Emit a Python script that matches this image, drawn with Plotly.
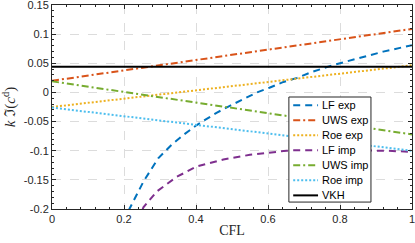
import plotly.graph_objects as go

# ---- data ----
cfl_lin = [0.0, 1.0]
uws_exp = [0.020, 0.109]
roe_exp = [-0.025, 0.0465]
uws_imp = [0.019, -0.072]
roe_imp = [-0.026, -0.100]
vkh = [0.044, 0.044]

lf_exp_x = [0.200, 0.215, 0.254, 0.295, 0.332, 0.365, 0.402, 0.425, 0.457, 0.494, 0.531,
            0.569, 0.604, 0.643, 0.681, 0.717, 0.781, 0.85, 0.92, 1.0]
lf_exp_y = [-0.222, -0.200, -0.153, -0.113, -0.090, -0.073, -0.056, -0.047, -0.035, -0.023,
            -0.012, 0.000, 0.008, 0.018, 0.025, 0.034, 0.047, 0.059, 0.070, 0.081]

lf_imp_x = [0.240, 0.254, 0.291, 0.346, 0.402, 0.476, 0.550, 0.652, 0.75, 0.85, 0.93, 1.0]
lf_imp_y = [-0.220, -0.197, -0.170, -0.145, -0.127, -0.115, -0.107, -0.100, -0.099, -0.099,
            -0.100, -0.102]

x_ticks = [0, 0.2, 0.4, 0.6, 0.8, 1]
x_labels = ["0", "0.2", "0.4", "0.6", "0.8", "1"]
y_ticks = [-0.2, -0.15, -0.1, -0.05, 0, 0.05, 0.1, 0.15]
y_labels = ["-0.2", "-0.15", "-0.1", "-0.05", "0", "0.05", "0.1", "0.15"]

series_names = ["LF exp", "UWS exp", "Roe exp", "LF imp", "UWS imp", "Roe imp", "VKH"]

DASH = "7px,5px"
DASHDOT = "7px,3px,2px,3px"
DOT = "2px,2px"
styles = [("#0072BD", DASH), ("#D95319", DASHDOT), ("#EDB120", DOT),
          ("#7E2F8E", DASH), ("#77AC30", DASHDOT), ("#4DBEEE", DOT), ("#000000", "solid")]
xs = [lf_exp_x, cfl_lin, cfl_lin, lf_imp_x, cfl_lin, cfl_lin, cfl_lin]
ys = [lf_exp_y, uws_exp, roe_exp, lf_imp_y, uws_imp, roe_imp, vkh]

fig = go.Figure()
for name, (color, dash), x, y in zip(series_names, styles, xs, ys):
    fig.add_trace(go.Scatter(x=x, y=y, mode="lines", name=name, showlegend=False,
                             line=dict(color=color, width=2, dash=dash)))

axis_common = dict(
    showline=True, linecolor="#262626", linewidth=1, mirror="ticks",
    ticks="inside", ticklen=4, tickcolor="#262626",
    showgrid=True, gridcolor="#DCDCDC", griddash="dash", gridwidth=1,
    zeroline=False, automargin=False, ticklabeloverflow="allow",
    tickfont=dict(family="Liberation Sans", size=11, color="#262626"),
)

fig.update_xaxes(range=[0, 1.00001], tickvals=x_ticks, ticktext=x_labels,
                 minor=dict(dtick=0.04, tick0=0, ticks="inside", ticklen=2, tickcolor="#262626", showgrid=False),
                 title=dict(text="CFL", font=dict(family="Liberation Serif", size=14, color="#262626"), standoff=0),
                 **axis_common)
fig.update_yaxes(range=[-0.2, 0.15001], tickvals=y_ticks, ticktext=y_labels,
                 minor=dict(dtick=0.01, tick0=0, ticks="inside", ticklen=2, tickcolor="#262626", showgrid=False),
                 title=dict(text="<i>k</i> ℑ(<i>c</i><sup>d</sup>)", font=dict(family="Liberation Serif", size=15, color="#262626"), standoff=4),
                 **axis_common)

# ---- legend box (drawn in axis-domain coordinates) ----
lx0, lx1, ly_top, ly_bot = 0.658, 0.886, 0.549, 0.034
row = (ly_top - ly_bot) / 7.0
shapes = [dict(type="rect", xref="x domain", yref="y domain", x0=lx0, x1=lx1, y0=ly_bot, y1=ly_top,
               fillcolor="white", line=dict(color="#262626", width=1), layer="above")]
annotations = []
for i, (name, (color, dash)) in enumerate(zip(series_names, styles)):
    yc = ly_top - row * (i + 0.5) - 0.004
    shapes.append(dict(type="line", xref="x domain", yref="y domain",
                       x0=lx0 + 0.012, x1=lx0 + 0.081, y0=yc, y1=yc,
                       line=dict(color=color, width=2, dash=dash), layer="above"))
    annotations.append(dict(xref="x domain", yref="y domain", x=lx0 + 0.086, y=yc,
                            text=name, showarrow=False, xanchor="left", yanchor="middle",
                            font=dict(family="Liberation Sans", size=11, color="#000000")))

fig.update_layout(
    width=415, height=243,
    margin=dict(l=52, r=3, t=5, b=34),
    plot_bgcolor="white", paper_bgcolor="white",
    showlegend=False,
    shapes=shapes, annotations=annotations,
)

fig.write_html("out.html", config={"displayModeBar": False},
               post_script="document.body.style.margin='0px';")
